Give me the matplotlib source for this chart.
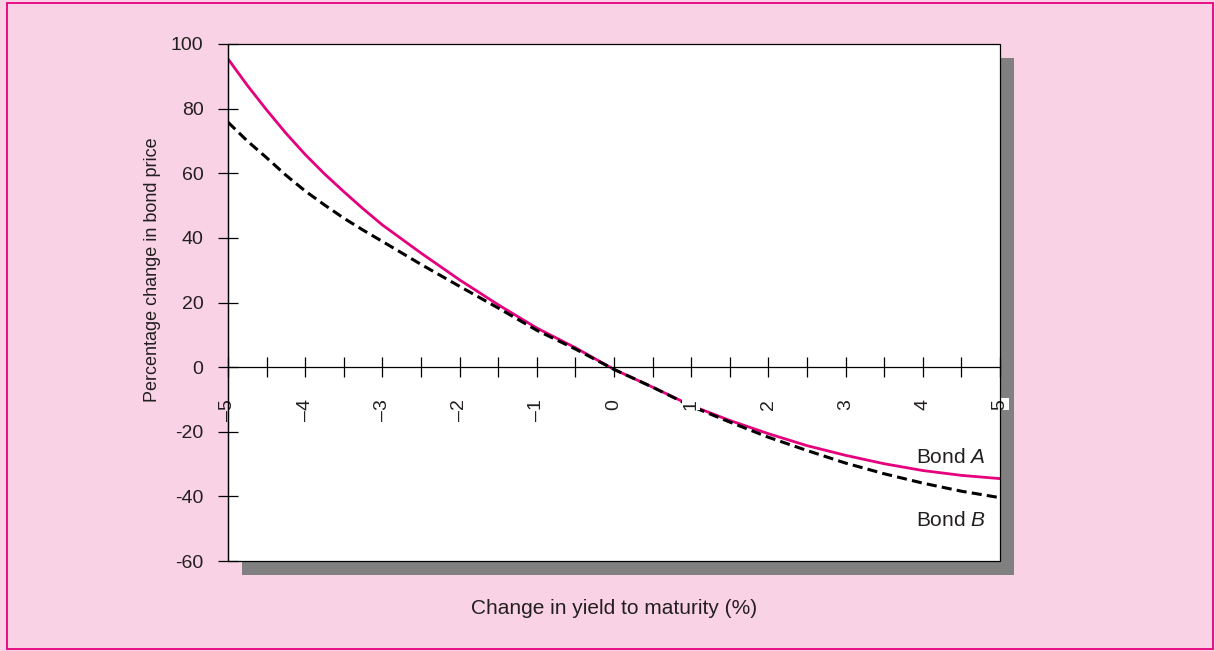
import matplotlib
matplotlib.use('Agg')
import matplotlib.pyplot as plt
from matplotlib.patches import Rectangle

plt.rcParams['font.family'] = ['Liberation Sans', 'DejaVu Sans']
plt.rcParams['mathtext.fontset'] = 'custom'
plt.rcParams['mathtext.rm'] = 'Liberation Sans'
plt.rcParams['mathtext.it'] = 'Liberation Sans:italic'

# data
yield_change = [-5, -4.75, -4.5, -4.25, -4, -3.75, -3.5, -3.25, -3, -2.5, -2, -1.5, -1, -0.5, 0,
                0.5, 1, 1.5, 2, 2.5, 3, 3.5, 4, 4.5, 5]
bond_a = [95.4, 87.2, 79.6, 72.4, 65.8, 59.8, 54.3, 49.0, 44.0, 35.3, 27.0, 19.3, 12.1, 6.0, -0.7,
          -6.2, -11.9, -16.5, -20.6, -24.3, -27.3, -29.9, -32.0, -33.5, -34.5]
bond_b = [75.8, 70.0, 64.8, 59.4, 54.5, 50.2, 46.1, 42.4, 38.9, 31.8, 25.0, 18.3, 11.4, 5.6, -0.7,
          -6.2, -12.1, -17.0, -21.7, -25.8, -29.7, -33.0, -35.9, -38.4, -40.4]

x_ticks = [-5, -4, -3, -2, -1, 0, 1, 2, 3, 4, 5]
x_labels = ['\u20135', '\u20134', '\u20133', '\u20132', '\u20131', '0', '1', '2', '3', '4', '5']
x_minor = [-4.5, -3.5, -2.5, -1.5, -0.5, 0.5, 1.5, 2.5, 3.5, 4.5]
y_ticks = [-60, -40, -20, 0, 20, 40, 60, 80, 100]
y_labels = ['-60', '-40', '-20', '0', '20', '40', '60', '80', '100']

pink_bg = '#F9D3E5'
magenta = '#E5007D'
txt = '#231F20'

W, H = 1215, 651
fig = plt.figure(figsize=(W / 100, H / 100), dpi=100, facecolor=pink_bg)

# outer magenta frame
fig.add_artist(Rectangle((7 / W, 1 - 649 / H), 1206 / W, 646 / H, transform=fig.transFigure,
                         fill=False, edgecolor=magenta, linewidth=1.3, zorder=-2))
# grey drop shadow
fig.add_artist(Rectangle((242 / W, 1 - 575 / H), 772 / W, 517 / H, transform=fig.transFigure,
                         facecolor='#808080', edgecolor='none', zorder=-1))

ax = fig.add_axes([228 / W, 1 - 561 / H, 772 / W, 517 / H])
ax.set_facecolor('white')
ax.set_axisbelow(False)

ax.plot(yield_change, bond_a, color=magenta, linewidth=2.0, zorder=2,
        solid_joinstyle='round')
ax.plot(yield_change, bond_b, color='black', linewidth=2.2, dashes=(3.3, 1.7), zorder=2)

ax.set_xlim(-5, 5)
ax.set_ylim(-60, 100)

for s in ['top', 'right']:
    ax.spines[s].set_visible(False)
ax.spines['bottom'].set_position(('data', 0))
ax.spines['left'].set_linewidth(0.9)
ax.spines['bottom'].set_linewidth(0.9)
ax.add_patch(Rectangle((0, 0), 1, 1, transform=ax.transAxes, fill=False,
                       edgecolor='black', linewidth=0.9, clip_on=False, zorder=2.6))

ax.set_xticks(x_ticks)
ax.set_xticklabels(x_labels, rotation=90)
ax.set_xticks(x_minor, minor=True)
ax.set_yticks(y_ticks)
ax.set_yticklabels(y_labels)

ax.tick_params(axis='x', which='both', direction='inout', length=14.4, width=0.9,
               pad=15.5, labelsize=14, labelcolor=txt)
ax.tick_params(axis='y', direction='inout', length=14.4, width=0.9,
               pad=10.5, labelsize=14, labelcolor=txt)

for i, lab in enumerate(ax.get_xticklabels()):
    if i > 0:
        lab.set_bbox(dict(facecolor='white', edgecolor='none', pad=0.5))

ax.text(4.81, -27.9, 'Bond $A$', ha='right', va='center', fontsize=15, color=txt)
ax.text(4.81, -47.4, 'Bond $B$', ha='right', va='center', fontsize=15, color=txt)

fig.text(153 / W, 1 - 270 / H, 'Percentage change in bond price', rotation=90,
         ha='center', va='center', fontsize=13, color=txt)
fig.text(614 / W, 1 - 608 / H, 'Change in yield to maturity (%)',
         ha='center', va='center', fontsize=15, color=txt)

fig.savefig('out.png', dpi=100, facecolor=pink_bg)
